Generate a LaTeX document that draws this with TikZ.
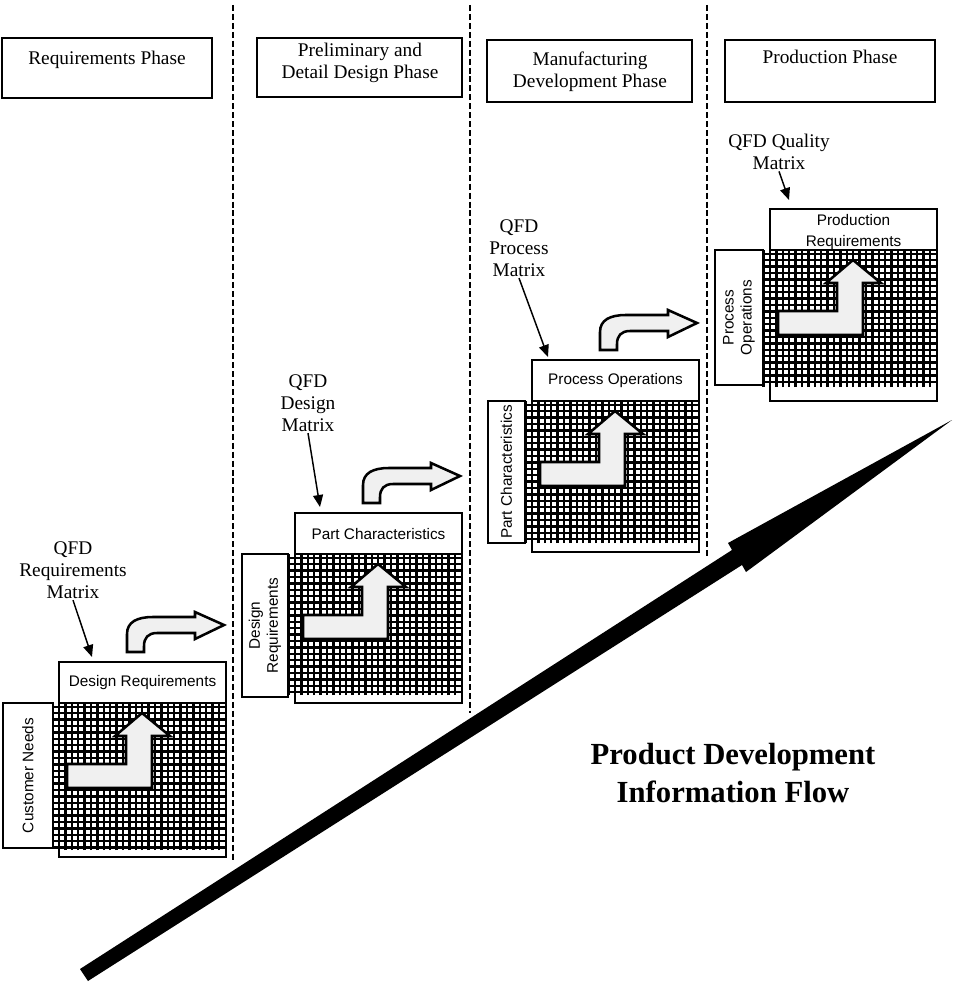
\documentclass[tikz,border=0pt]{standalone}
\usepackage{fontspec}
\setmainfont{Liberation Serif}
\setsansfont{Liberation Sans}
\usetikzlibrary{arrows.meta}

\begin{document}
\begin{tikzpicture}[
  x=0.75pt,
  y=-0.75pt,
  phasebox/.style={draw=black, line width=1.4pt},
  phasetext/.style={font=\fontsize{14.5}{16.5}\selectfont, align=center, inner sep=1pt},
  phaseline/.style={draw=black, line width=2pt, dash pattern=on 4.5pt off 2.2pt},
  qfdlabel/.style={font=\fontsize{14.5}{16.5}\selectfont, align=center, inner sep=1pt},
  qfdpointer/.style={draw=black, line width=1.1pt, -{Triangle[length=9pt, width=7.5pt]}},
  matrixframe/.style={draw=black, line width=1.4pt},
  gridlines/.style={draw=black, line width=1.7pt, step=4.8pt},
  headtext/.style={font=\sffamily\fontsize{11.5}{15.5}\selectfont, align=center, inner sep=1pt},
  sidebox/.style={draw=black, fill=white, line width=1.4pt},
  sidetext/.style={font=\sffamily\fontsize{11.5}{13.5}\selectfont, align=center, rotate=90, inner sep=1pt},
  turnarrow/.style={draw=black, fill=gray!12, line width=1.9pt, line join=miter},
  flowarrow/.style={fill=black},
  title/.style={font=\bfseries\fontsize{23}{28}\selectfont, align=center}
]

\useasboundingbox (0,0) rectangle (953,987);

% phase headings and dividers
\draw[phasebox] (2,38) rectangle (212,98);
\node[phasetext] (ph1) at (107,60) {Requirements Phase};
\draw[phasebox] (257,38) rectangle (462,97);
\node[phasetext] (ph2) at (360,62.5) {Preliminary and\\Detail Design Phase};
\draw[phasebox] (487,40) rectangle (692,102);
\node[phasetext] (ph3) at (590,71.5) {Manufacturing\\Development Phase};
\draw[phasebox] (725,40) rectangle (935,102);
\node[phasetext] (ph4) at (830,57) {Production Phase};

\draw[phaseline] (233,5) -- (233,862);
\draw[phaseline] (470,5) -- (470,713);
\draw[phaseline] (707,5) -- (707,557);

% big flow arrow
\fill[flowarrow] (80,969) -- (732,550) -- (728,543) -- (952,420)
  -- (746,572) -- (742,565) -- (88,981) -- cycle;
\node[title] (flowtitle) at (733,773) {Product Development\\Information Flow};

% requirements matrix
\begin{scope}[shift={(59,662)}]
  \draw[gridlines] (-6,188) grid (166,41);
  \draw[turnarrow] (8,102) -- (67,102) -- (67,74) -- (56,74) -- (83,51)
    -- (111,74) -- (93,74) -- (93,126) -- (8,126) -- cycle;
  \draw[matrixframe] (0,0) rectangle (167,195);
  \draw[matrixframe, fill=white] (0,0) rectangle (167,41);
  \draw[sidebox] (-56,41) rectangle (-6,186);
  \node[headtext] (hd1) at (83.5,21) {Design Requirements};
  \node[sidetext] (sd1) at (-31,113.5) {Customer Needs};
  \draw[turnarrow] (68,-10) -- (68,-28) .. controls (68,-40) and (78,-45) .. (94,-45)
    -- (136,-45) -- (136,-50) -- (165,-37) -- (136,-23) -- (136,-29) -- (98,-29)
    .. controls (89,-29) and (85,-24) .. (85,-16) -- (85,-10) -- cycle;
\end{scope}

% design matrix
\begin{scope}[shift={(295,513)}]
  \draw[gridlines] (-7,182) grid (166,41);
  \draw[turnarrow] (8,102) -- (67,102) -- (67,74) -- (56,74) -- (83,51)
    -- (111,74) -- (93,74) -- (93,126) -- (8,126) -- cycle;
  \draw[matrixframe] (0,0) rectangle (167,190);
  \draw[matrixframe, fill=white] (0,0) rectangle (167,41);
  \draw[sidebox] (-53,41) rectangle (-7,184);
  \node[headtext] (hd2) at (83.5,21) {Part Characteristics};
  \node[sidetext] (sd2) at (-30,112.5) {Design\\Requirements};
  \draw[turnarrow] (68,-10) -- (68,-28) .. controls (68,-40) and (78,-45) .. (94,-45)
    -- (136,-45) -- (136,-50) -- (165,-37) -- (136,-23) -- (136,-29) -- (98,-29)
    .. controls (89,-29) and (85,-24) .. (85,-16) -- (85,-10) -- cycle;
\end{scope}

% process matrix
\begin{scope}[shift={(532,360)}]
  \draw[gridlines] (-7,183) grid (166,41);
  \draw[turnarrow] (8,102) -- (67,102) -- (67,74) -- (56,74) -- (83,51)
    -- (111,74) -- (93,74) -- (93,126) -- (8,126) -- cycle;
  \draw[matrixframe] (0,0) rectangle (167,192);
  \draw[matrixframe, fill=white] (0,0) rectangle (167,41);
  \draw[sidebox] (-44,41) rectangle (-7,183);
  \node[headtext] (hd3) at (83.5,21) {Process Operations};
  \node[sidetext] (sd3) at (-25.5,112) {Part Characteristics};
  \draw[turnarrow] (68,-10) -- (68,-28) .. controls (68,-40) and (78,-45) .. (94,-45)
    -- (136,-45) -- (136,-50) -- (165,-37) -- (136,-23) -- (136,-29) -- (98,-29)
    .. controls (89,-29) and (85,-24) .. (85,-16) -- (85,-10) -- cycle;
\end{scope}

% quality matrix
\begin{scope}[shift={(770,209)}]
  \draw[gridlines] (-7,178) grid (166,41);
  \draw[turnarrow] (8,102) -- (67,102) -- (67,74) -- (56,74) -- (83,51)
    -- (111,74) -- (93,74) -- (93,126) -- (8,126) -- cycle;
  \draw[matrixframe] (0,0) rectangle (167,192);
  \draw[matrixframe, fill=white] (0,0) rectangle (167,41);
  \draw[sidebox] (-55,41) rectangle (-7,176);
  \node[headtext] (hd4) at (83.5,23) {Production\\Requirements};
  \node[sidetext] (sd4) at (-31,108.5) {Process\\Operations};
\end{scope}

% QFD matrix labels
\node[qfdlabel] (qfd1) at (73,570) {QFD\\Requirements\\Matrix};
\coordinate (qfd1tip) at (92,657);
\draw[qfdpointer] (qfd1.south) -- (qfd1tip);
\node[qfdlabel] (qfd2) at (308,403) {QFD\\Design\\Matrix};
\coordinate (qfd2tip) at (320,507);
\draw[qfdpointer] (qfd2.south) -- (qfd2tip);
\node[qfdlabel] (qfd3) at (519,248) {QFD\\Process\\Matrix};
\coordinate (qfd3tip) at (548,357);
\draw[qfdpointer] (qfd3.south) -- (qfd3tip);
\node[qfdlabel] (qfd4) at (779,152) {QFD Quality\\Matrix};
\coordinate (qfd4tip) at (789,200);
\draw[qfdpointer] (qfd4.south) -- (qfd4tip);

\end{tikzpicture}
\end{document}
